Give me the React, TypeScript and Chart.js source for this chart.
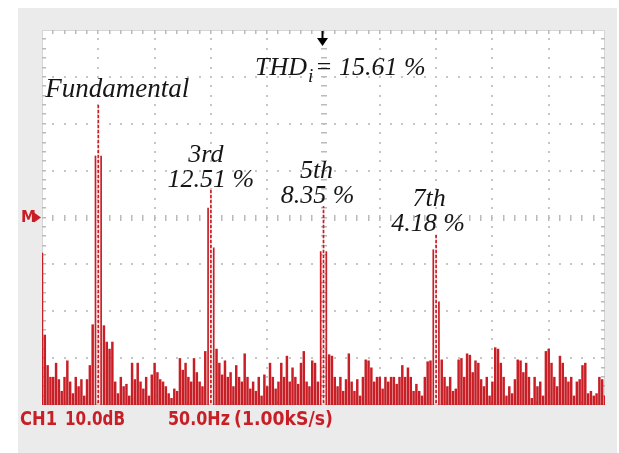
import { useEffect, useRef } from "react";
import { Chart, registerables } from "chart.js";

Chart.register(...registerables);

// Spectrum analyser readout: 0–500 Hz, 2.5 Hz bins, 10 dB/div, M reference at 0 dB
const BIN_HZ = 2.5;
const SPAN_HZ = 500;
const HZ_PER_DIV = 50;
const DB_PER_DIV = 10;
const DB_MIN = -40;
const DB_MAX = 40;

const fundamentalHz = 50;
const fundamentalDb = 24;

const harmonicOrders = [3, 5, 7];
const harmonicNames = ["3rd", "5th", "7th"];
const harmonicPercent = [12.51, 8.35, 4.18];
const thdPercent = 15.61;

const readoutTokens = ["CH1", "10.0dB", "50.0Hz", "(1.00kS/s)"];

// Magnitude per bin (dB). Harmonic peak bins are null: they are set from the labelled levels.
const spectrumDb: (number | null)[] = [
  -7.5, -25, -31.5, -34, -34, -31, -34.5, -37, -34, -30.5, -35, -37.5, -34, -36, -34.5, -38, -34.5, -31.5, -22.8, 13.2,
  null, 13.2, -23, -26.5, -28, -26.5, -35, -37.5, -34, -36, -35.5, -38, -31, -34.5, -31, -35, -36.5, -34, -38, -33.5,
  -31, -33, -34.5, -35, -36, -37.5, -38.5, -36.5, -37, -30, -32.5, -31, -34, -35, -30, -33, -35, -36, -28.5, 2.1,
  null, -6.4, -28, -31, -33.5, -30.5, -34, -33, -36, -31.5, -34, -35, -29, -34, -36.5, -35, -37, -34, -38, -33.5,
  -36, -31, -34, -36.5, -35, -31, -34, -29.5, -35, -32, -34, -35.5, -31, -28.5, -35, -36, -30.5, -31, -35, -7.2,
  null, -7.2, -29.2, -29.5, -34, -36, -34, -37, -34.5, -29, -35, -37, -34.5, -38, -34, -30.3, -30.5, -32, -35, -34,
  -34, -36.5, -34, -35, -34, -34, -35.5, -34, -31.5, -34, -32, -34, -37, -35.5, -37, -38, -34, -30.7, -30.5, -6.8,
  null, -17.9, -30.3, -34, -36, -34, -37, -36.5, -30.3, -30, -34, -29, -29.3, -33, -30.5, -31, -34.5, -36, -34, -38,
  -35, -27.7, -28, -31, -34, -38, -36, -37.5, -34.5, -30.3, -30.5, -33, -31, -34, -38.5, -34, -36, -35, -38, -28.5,
  -28, -31, -34, -36, -29.5, -31, -34, -35, -34, -38, -35, -34.5, -31.5, -31, -37.5, -37, -38, -37.5, -34, -34.5,
  -38,
];

const RED = "#c81e26";
const TEXT = "#161616";

const harmonicDb = (pct: number) => fundamentalDb + 20 * Math.log10(pct / 100);

// Peak bins (centre of each narrow column) and their levels
function peakLevels() {
  const peaks = new Map<number, number>();
  peaks.set(Math.round(fundamentalHz / BIN_HZ), fundamentalDb);
  harmonicOrders.forEach((n, i) => {
    peaks.set(Math.round((n * fundamentalHz) / BIN_HZ), harmonicDb(harmonicPercent[i]));
  });
  return peaks;
}

function buildSeries() {
  const peaks = peakLevels();
  const columnBins = new Set<number>();
  peaks.forEach((_, b) => {
    columnBins.add(b - 1);
    columnBins.add(b);
    columnBins.add(b + 1);
  });
  const floor: any[] = [];
  const columns: any[] = [];
  spectrumDb.forEach((v, i) => {
    const y = peaks.has(i) ? (peaks.get(i) as number) : (v as number);
    if (columnBins.has(i)) {
      floor.push({ x: i * BIN_HZ, y: null });
      columns.push({ x: i * BIN_HZ, y, peak: peaks.has(i) });
    } else {
      floor.push({ x: i * BIN_HZ, y });
    }
  });
  return { floor, columns };
}

// label placement next to each harmonic peak (pixels)
const harmonicLabelLayout = [
  { numDx: 0, nameDx: -5 },
  { numDx: -6, nameDx: -7 },
  { numDx: -8, nameDx: -7 },
];

// x offsets of the bottom readout tokens and their target widths
const readoutLayout = [
  { x: 20, w: 37 },
  { x: 65, w: 60 },
  { x: 168, w: 62 },
  { x: 234, w: 99 },
];

const scopePlugin = {
  id: "scopeScreen",
  beforeDraw(chart: any) {
    const { ctx, width, height, chartArea: a } = chart;
    ctx.save();
    ctx.fillStyle = "#ffffff";
    ctx.fillRect(0, 0, width, height);
    ctx.fillStyle = "#ebebeb";
    ctx.fillRect(18, 8, width - 20, height - 8);
    ctx.fillStyle = "#ffffff";
    ctx.fillRect(a.left, a.top, a.right - a.left, a.bottom - a.top);
    ctx.restore();
  },
  beforeDatasetsDraw(chart: any) {
    const { ctx, chartArea: a } = chart;
    const xs = chart.scales.x;
    const ys = chart.scales.y;
    const xMinor = HZ_PER_DIV / 5;
    const yMinor = DB_PER_DIV / 5;
    const centerHz = SPAN_HZ / 2;
    const centerDb = (DB_MIN + DB_MAX) / 2;
    ctx.save();
    ctx.strokeStyle = "#d6d6d6";
    ctx.lineWidth = 1;
    ctx.strokeRect(a.left + 0.5, a.top + 0.5, a.right - a.left - 1, a.bottom - a.top - 1);

    ctx.fillStyle = "#c6c6c6";
    for (let f = HZ_PER_DIV; f < SPAN_HZ; f += HZ_PER_DIV) {
      if (f === centerHz) continue;
      const px = Math.round(xs.getPixelForValue(f));
      for (let d = DB_MIN + yMinor; d < DB_MAX; d += yMinor) {
        const py = Math.round(ys.getPixelForValue(d));
        ctx.fillRect(px - 1, py - 1, 2, 2);
      }
    }
    for (let d = DB_MIN + DB_PER_DIV; d < DB_MAX; d += DB_PER_DIV) {
      if (d === centerDb) continue;
      const py = Math.round(ys.getPixelForValue(d));
      for (let f = xMinor; f < SPAN_HZ; f += xMinor) {
        const px = Math.round(xs.getPixelForValue(f));
        ctx.fillRect(px - 1, py - 1, 2, 2);
      }
    }
    ctx.fillStyle = "#bababa";
    const cx = Math.round(xs.getPixelForValue(centerHz));
    const cy = Math.round(ys.getPixelForValue(centerDb));
    for (let d = DB_MIN + yMinor; d < DB_MAX; d += yMinor) {
      const py = Math.round(ys.getPixelForValue(d));
      ctx.fillRect(cx - 3, py - 1, 6, 1.5);
    }
    for (let f = xMinor; f < SPAN_HZ; f += xMinor) {
      const px = Math.round(xs.getPixelForValue(f));
      ctx.fillRect(px - 1, cy - 3, 1.5, 6);
    }
    for (let f = xMinor; f < SPAN_HZ; f += xMinor) {
      const px = Math.round(xs.getPixelForValue(f));
      ctx.fillRect(px - 1, a.top, 1.5, 4);
      ctx.fillRect(px - 1, a.bottom - 4, 1.5, 4);
    }
    for (let d = DB_MIN + yMinor; d < DB_MAX; d += yMinor) {
      const py = Math.round(ys.getPixelForValue(d));
      ctx.fillRect(a.left, py - 1, 4, 1.5);
      ctx.fillRect(a.right - 4, py - 1, 4, 1.5);
    }
    ctx.restore();
  },
  afterDatasetsDraw(chart: any) {
    const { ctx, chartArea: a } = chart;
    const xs = chart.scales.x;
    const ys = chart.scales.y;
    ctx.save();

    // trigger position arrow
    const cx = xs.getPixelForValue(SPAN_HZ / 2) - 1;
    ctx.fillStyle = "#000000";
    ctx.fillRect(cx - 1, a.top + 1, 2, 8);
    ctx.beginPath();
    ctx.moveTo(cx - 5.5, a.top + 8);
    ctx.lineTo(cx + 5.5, a.top + 8);
    ctx.lineTo(cx, a.top + 16);
    ctx.closePath();
    ctx.fill();

    // reference level marker
    const my = ys.getPixelForValue(0);
    ctx.fillStyle = RED;
    ctx.font = "bold 15px 'DejaVu Sans'";
    ctx.textAlign = "left";
    ctx.textBaseline = "middle";
    ctx.fillText("M", 21, my + 0.5);
    ctx.beginPath();
    ctx.moveTo(34, my - 5);
    ctx.lineTo(41, my);
    ctx.lineTo(34, my + 5);
    ctx.closePath();
    ctx.fill();

    // bottom readouts, stretched to the instrument's tall narrow lettering
    ctx.textBaseline = "alphabetic";
    ctx.font = "bold 15px 'DejaVu Sans'";
    readoutTokens.forEach((t, i) => {
      const lay = readoutLayout[i];
      const m = ctx.measureText(t).width;
      ctx.save();
      ctx.translate(lay.x, a.bottom + 20);
      ctx.scale(lay.w / m, 1.33);
      ctx.fillText(t, 0, 0);
      ctx.restore();
    });

    // annotations
    ctx.fillStyle = TEXT;
    ctx.textAlign = "center";
    const fx = xs.getPixelForValue(fundamentalHz);
    const fy = ys.getPixelForValue(fundamentalDb);
    ctx.font = "italic 27px 'Liberation Serif'";
    ctx.fillText("Fundamental", fx + 19, fy - 8);

    ctx.font = "italic 26px 'Liberation Serif'";
    harmonicOrders.forEach((n, i) => {
      const px = xs.getPixelForValue(n * fundamentalHz);
      const py = ys.getPixelForValue(harmonicDb(harmonicPercent[i]));
      const lay = harmonicLabelLayout[i];
      ctx.fillText(`${harmonicPercent[i].toFixed(2)} %`, px + lay.numDx, py - 3);
      ctx.fillText(harmonicNames[i], px + lay.nameDx, py - 28);
    });

    // THD readout
    ctx.textAlign = "left";
    const tx = 255;
    const ty = a.top + 45;
    ctx.fillText("THD", tx, ty);
    const w = ctx.measureText("THD").width;
    ctx.font = "italic 19px 'Liberation Serif'";
    ctx.fillText("i", tx + w + 1, ty + 7);
    ctx.font = "italic 26px 'Liberation Serif'";
    ctx.fillText(`= ${thdPercent.toFixed(2)} %`, tx + w + 8, ty);
    ctx.restore();
  },
};

export default function App() {
  const canvasRef = useRef<HTMLCanvasElement | null>(null);

  useEffect(() => {
    const canvas = canvasRef.current;
    if (!canvas) return;

    const pat = document.createElement("canvas");
    pat.width = 2;
    pat.height = 5;
    const pctx = pat.getContext("2d") as CanvasRenderingContext2D;
    pctx.fillStyle = "#f3c4c4";
    pctx.fillRect(0, 0, 2, 5);
    pctx.fillStyle = RED;
    pctx.fillRect(0, 0, 2, 3);
    const peakFill = (canvas.getContext("2d") as CanvasRenderingContext2D).createPattern(pat, "repeat");

    const { floor, columns } = buildSeries();

    const chart = new Chart(canvas, {
      type: "bar",
      data: {
        datasets: [
          {
            data: floor,
            base: DB_MIN,
            grouped: false,
            backgroundColor: RED,
            borderWidth: 0,
            barPercentage: 0.88,
            categoryPercentage: 1,
          } as any,
          {
            data: columns,
            base: DB_MIN,
            grouped: false,
            backgroundColor: (c: any) => (c.raw && c.raw.peak ? peakFill : RED),
            borderWidth: 0,
            barPercentage: 0.6,
            categoryPercentage: 1,
          } as any,
        ],
      },
      options: {
        responsive: false,
        devicePixelRatio: 1,
        animation: false,
        layout: { padding: { left: 42, top: 30, right: 14, bottom: 48 } },
        scales: {
          x: { type: "linear", min: 0, max: SPAN_HZ, offset: false, display: false },
          y: { min: DB_MIN, max: DB_MAX, display: false },
        },
        plugins: {
          legend: { display: false },
          tooltip: { enabled: false },
        },
      },
      plugins: [scopePlugin],
    });

    return () => chart.destroy();
  }, []);

  return (
    <div style={{ position: "fixed", left: 0, top: 0, width: 619, height: 453, background: "#fff" }}>
      <canvas ref={canvasRef} width={619} height={453} style={{ display: "block" }} />
    </div>
  );
}
